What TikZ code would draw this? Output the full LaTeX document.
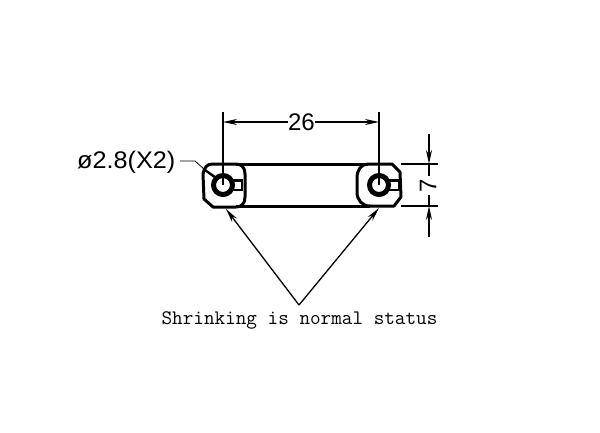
\documentclass[tikz,border=0pt]{standalone}
\usepackage{fontspec}
\setmainfont{Liberation Sans}
\setmonofont{Latin Modern Mono}
\usetikzlibrary{arrows.meta}
\tikzset{
  outline/.style={line width=3pt,line join=round},
  ring/.style={line width=5pt},
  thin dim/.style={line width=1.3pt},
  dimarrow/.style={line width=1.3pt,-{Stealth[length=14pt,width=6pt]}},
  cadtext/.style={inner sep=0pt,font=\fontsize{24}{24}\selectfont},
}
\begin{document}
\begin{tikzpicture}[x=1pt,y=-1pt]
\useasboundingbox[fill=white] (0,0) rectangle (600,432);
% lugs
\draw[outline] (212,164) -- (236,164) .. controls (242,164) and (245,168) .. (245,174) -- (245,197) .. controls (245,203) and (242,207) .. (236,207) -- (213,207) -- (204,199) -- (203,174) .. controls (204,168) and (207,164) .. (212,164) -- cycle;
\draw[outline] (368,164) -- (392,164) -- (400,172) -- (401,197) -- (394,206) -- (370,206) .. controls (362,206) and (357,200) .. (357,192) -- (357,178) .. controls (357,170) and (361,164) .. (368,164) -- cycle;
% body edges
\draw[outline] (236,164) -- (368,164);
\draw[outline] (236,206.5) -- (370,206.5);
% holes
\coordinate (hl) at (223,185);
\coordinate (hr) at (379,185);
\draw[ring] (hl) circle (9.5);
\draw[ring] (hr) circle (9.5);
\draw[line width=2.4pt] (232,180.5) -- (242,180.5) -- (242,190) -- (232,190);
\draw[line width=2.4pt] (388,180.5) -- (399,180.5) -- (399,190) -- (388,190);
% horizontal dimension
\coordinate (lt) at (223,112);
\coordinate (rt) at (379,112);
\draw[thin dim] (lt) -- (hl);
\draw[thin dim] (rt) -- (hr);
\node[cadtext] (d26) at (301.5,122) {26};
\coordinate (al) at (223,122);
\coordinate (ar) at (379,122);
\draw[dimarrow] (d26) -- (al);
\draw[dimarrow] (d26) -- (ar);
% vertical dimension
\coordinate (e1a) at (401,164);
\coordinate (e1b) at (438,164);
\coordinate (e2a) at (401,206);
\coordinate (e2b) at (438,206);
\draw[thin dim] (e1a) -- (e1b);
\draw[thin dim] (e2a) -- (e2b);
\coordinate (v1) at (429,134);
\coordinate (v1e) at (429,164);
\coordinate (v2) at (429,237);
\coordinate (v2e) at (429,206);
\draw[dimarrow] (v1) -- (v1e);
\draw[dimarrow] (v2) -- (v2e);
\draw[thin dim] (v1e) -- (429,176);
\draw[thin dim] (v2e) -- (429,195);
\node[cadtext,rotate=90] (d7) at (428,185.5) {7};
% diameter label
\node[cadtext,anchor=west,xscale=1.05] (dia) at (77,162.5) {ø2.8(X2)};
\coordinate (l1) at (195,161);
\coordinate (l2) at (205,170);
\coordinate (l3) at (216,178);
\draw[line width=.8pt] (180,161) -- (l1) -- (l2);
\draw[line width=2.4pt] (l2) -- (l3);
% shrink arrows
\node[inner sep=0pt,font=\ttfamily\fontsize{20.6}{21}\selectfont] (note) at (299.5,320.5) {Shrinking is normal status};
\coordinate (apex) at (299,305);
\coordinate (tl) at (226,209);
\coordinate (tr) at (379,208);
\draw[dimarrow] (apex) -- (tl);
\draw[dimarrow] (apex) -- (tr);
\end{tikzpicture}
\end{document}
